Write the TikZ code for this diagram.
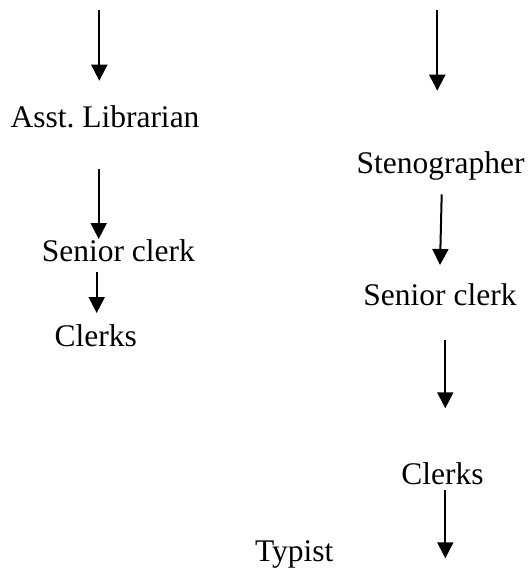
\documentclass[tikz,border=0pt]{standalone}
\usepackage{fontspec}
\setmainfont{Liberation Serif}
\usetikzlibrary{arrows.meta}
\tikzset{
  lbl/.style={inner sep=0pt, anchor=base, font=\fontsize{31.5}{36}\selectfont},
  arr/.style={line width=2pt, -{Triangle[width=16pt,length=16pt]}}
}
\begin{document}
\begin{tikzpicture}[x=1pt,y=-1pt]
\useasboundingbox (0,0) rectangle (531,572);
% left column
\node[lbl] (alib) at (105,127.5) {Asst.\ Librarian};
\node[lbl] (scL) at (118.3,261) {Senior clerk};
\node[lbl] (clL) at (95.8,346.7) {Clerks};
% right column
\node[lbl] (steno) at (440.5,173) {Stenographer};
\node[lbl] (scR) at (440,305) {Senior clerk};
\node[lbl] (clR) at (442.5,484) {Clerks};
\node[lbl] (typ) at (294.2,561.7) {Typist};
% arrow end points
\coordinate (a1s) at (99.3,10);   \coordinate (a1e) at (99.3,80.7);
\coordinate (a2s) at (98.7,169);  \coordinate (a2e) at (98.7,239);
\coordinate (a3s) at (96.7,271.7);\coordinate (a3e) at (96.7,313);
\coordinate (b1s) at (437.3,10);  \coordinate (b1e) at (437.3,90.7);
\coordinate (b2s) at (441.7,194.3);\coordinate (b2e) at (440,265);
\coordinate (b3s) at (445.3,340); \coordinate (b3e) at (445.3,408.3);
\coordinate (b4s) at (445.3,490); \coordinate (b4e) at (445.3,558.3);
\draw[arr] (a1s) -- (a1e);
\draw[arr] (a2s) -- (a2e);
\draw[arr] (a3s) -- (a3e);
\draw[arr] (b1s) -- (b1e);
\draw[arr] (b2s) -- (b2e);
\draw[arr] (b3s) -- (b3e);
\draw[arr] (b4s) -- (b4e);
\end{tikzpicture}
\end{document}
